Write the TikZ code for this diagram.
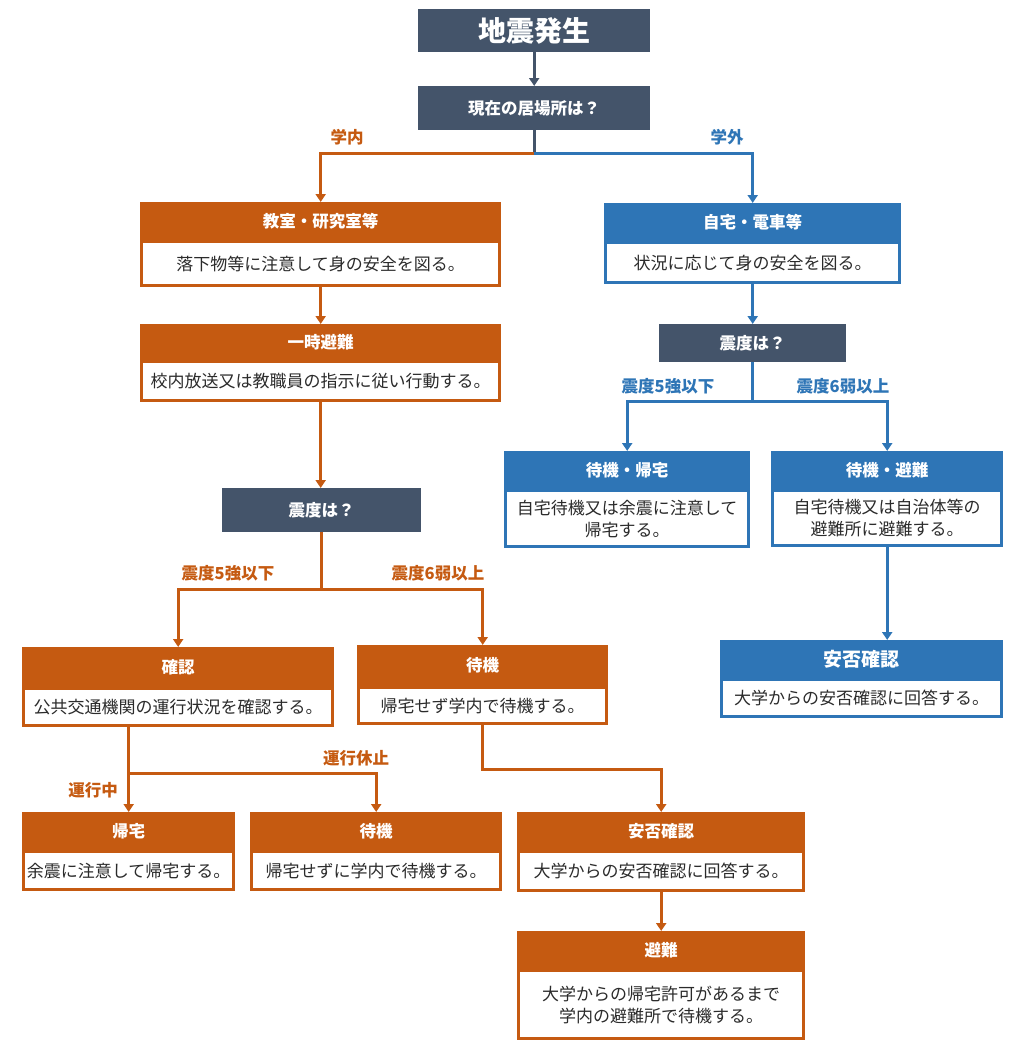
\documentclass[tikz,border=0pt]{standalone}
\usepackage{fontspec}
\setmainfont{Noto Sans CJK JP}
\usetikzlibrary{positioning,arrows.meta}
\definecolor{slate}{HTML}{44546A}
\definecolor{orng}{HTML}{C55A11}
\definecolor{blu}{HTML}{2E75B6}
\definecolor{txtgray}{HTML}{2B2B2B}
\tikzset{
  head/.style={fill=#1, text=white, inner sep=0pt, anchor=north west,
    font=\bfseries\fontsize{16.5}{19}\selectfont},
  body/.style={draw=#1, line width=3pt, fill=white, text=txtgray, inner sep=0pt, align=center,
    font=\fontsize{17}{22}\selectfont},
  ask/.style={fill=slate, text=white, inner sep=0pt, anchor=north west,
    font=\bfseries\fontsize{16.5}{19}\selectfont},
  link/.style={draw=#1, line width=3pt, -{Triangle[width=10pt,length=8pt]}},
  tag/.style={text=#1, font=\bfseries\fontsize{16.5}{19}\selectfont}
}
% name, x, y, width, head height, body height, colour, head, body
\newcommand{\flowbox}[9]{%
  \node[head=#7, minimum width=#4, minimum height=#5] (#1-h) at (#2,#3) {#8};
  \node[body=#7, minimum width=#4-3, minimum height=#6-3, below=0pt of #1-h] (#1-b) {#9};}

\begin{document}
\begin{tikzpicture}[x=1pt,y=-1pt]
  %%%%% START %%%%%
  \useasboundingbox (0,0) rectangle (1024,1050);

  \node[ask, minimum width=232, minimum height=43, font=\bfseries\fontsize{28}{30}\selectfont] (quake) at (418,9) {地震発生};
  \node[ask, minimum width=232, minimum height=44] (where) at (418,86) {現在の居場所は？};

  % campus side
  \flowbox{room}{140}{202}{361}{38}{47}{orng}{教室・研究室等}{落下物等に注意して身の安全を図る。}
  \flowbox{evac}{140}{324}{361}{36}{42}{orng}{一時避難}{校内放送又は教職員の指示に従い行動する。}
  \node[ask, minimum width=199, minimum height=44] (scaleL) at (222,488) {震度は？};
  \flowbox{check}{22}{647}{312}{40}{40}{orng}{確認}{公共交通機関の運行状況を確認する。}
  \flowbox{stay}{357}{645}{251}{41}{39}{orng}{待機}{帰宅せず学内で待機する。}
  \flowbox{home}{22}{812}{213}{38}{41}{orng}{帰宅}{余震に注意して帰宅する。}
  \flowbox{wait}{250}{812}{252}{38}{41}{orng}{待機}{帰宅せずに学内で待機する。}
  \flowbox{safeL}{517}{812}{288}{38}{42}{orng}{安否確認}{大学からの安否確認に回答する。}
  \flowbox{shelter}{517}{931}{288}{38}{71}{orng}{避難}{大学からの帰宅許可があるまで\\学内の避難所で待機する。}

  % off campus side
  \flowbox{out}{604}{203}{297}{38}{43}{blu}{自宅・電車等}{状況に応じて身の安全を図る。}
  \node[ask, minimum width=187, minimum height=38] (scaleR) at (659,324) {震度は？};
  \flowbox{gohome}{504}{451}{246}{38}{59}{blu}{待機・帰宅}{自宅待機又は余震に注意して\\帰宅する。}
  \flowbox{refuge}{771}{451}{232}{38}{58}{blu}{待機・避難}{自宅待機又は自治体等の\\避難所に避難する。}
  \flowbox{safeR}{720}{640}{283}{38}{40}{blu}{\fontsize{19}{22}\selectfont 安否確認}{大学からの安否確認に回答する。}

  % connectors
  \draw[link=slate] (quake.south) -- (where.north);
  \draw[slate, line width=3pt] (where.south) -- ++(0,23) coordinate (split);
  \draw[link=orng] (split) -| (room-h.north);
  \draw[link=blu] (split) -| (out-h.north);
  \draw[link=orng] (room-b.south) -- (evac-h.north);
  \draw[link=orng] (evac-b.south) -- (evac-b.south |- scaleL.north);
  \draw[orng, line width=3pt] (scaleL.south) -- ++(0,57) coordinate (splitL);
  \draw[link=orng] (splitL) -| (check-h.north);
  \draw[link=orng] (splitL) -| (stay-h.north);
  \draw[link=orng] (home-h.north |- check-b.south) -- (home-h.north);
  \draw[link=orng] (home-h.north |- 0,773) -| (wait-h.north);
  \draw[link=orng] (stay-b.south) -- ++(0,44) -| (safeL-h.north);
  \draw[link=orng] (safeL-b.south) -- (shelter-h.north);
  \draw[link=blu] (out-b.south) -- (scaleR.north);
  \draw[blu, line width=3pt] (scaleR.south) -- ++(0,39) coordinate (splitR);
  \draw[link=blu] (splitR) -| (gohome-h.north);
  \draw[link=blu] (splitR) -| (refuge-h.north);
  \draw[link=blu] (refuge-b.south) -- (refuge-b.south |- safeR-h.north);

  % branch labels
  \node[tag=orng] (inside) at (347,137) {学内};
  \node[tag=blu] (outside) at (727,137) {学外};
  \node[tag=orng] (lowL) at (228,573) {震度5強以下};
  \node[tag=orng] (highL) at (438,573) {震度6弱以上};
  \node[tag=orng] (running) at (93,790) {運行中};
  \node[tag=orng] (stopped) at (356,758) {運行休止};
  \node[tag=blu] (lowR) at (668,386) {震度5強以下};
  \node[tag=blu] (highR) at (843,386) {震度6弱以上};
  %%%%% END %%%%%
\end{tikzpicture}
\end{document}
